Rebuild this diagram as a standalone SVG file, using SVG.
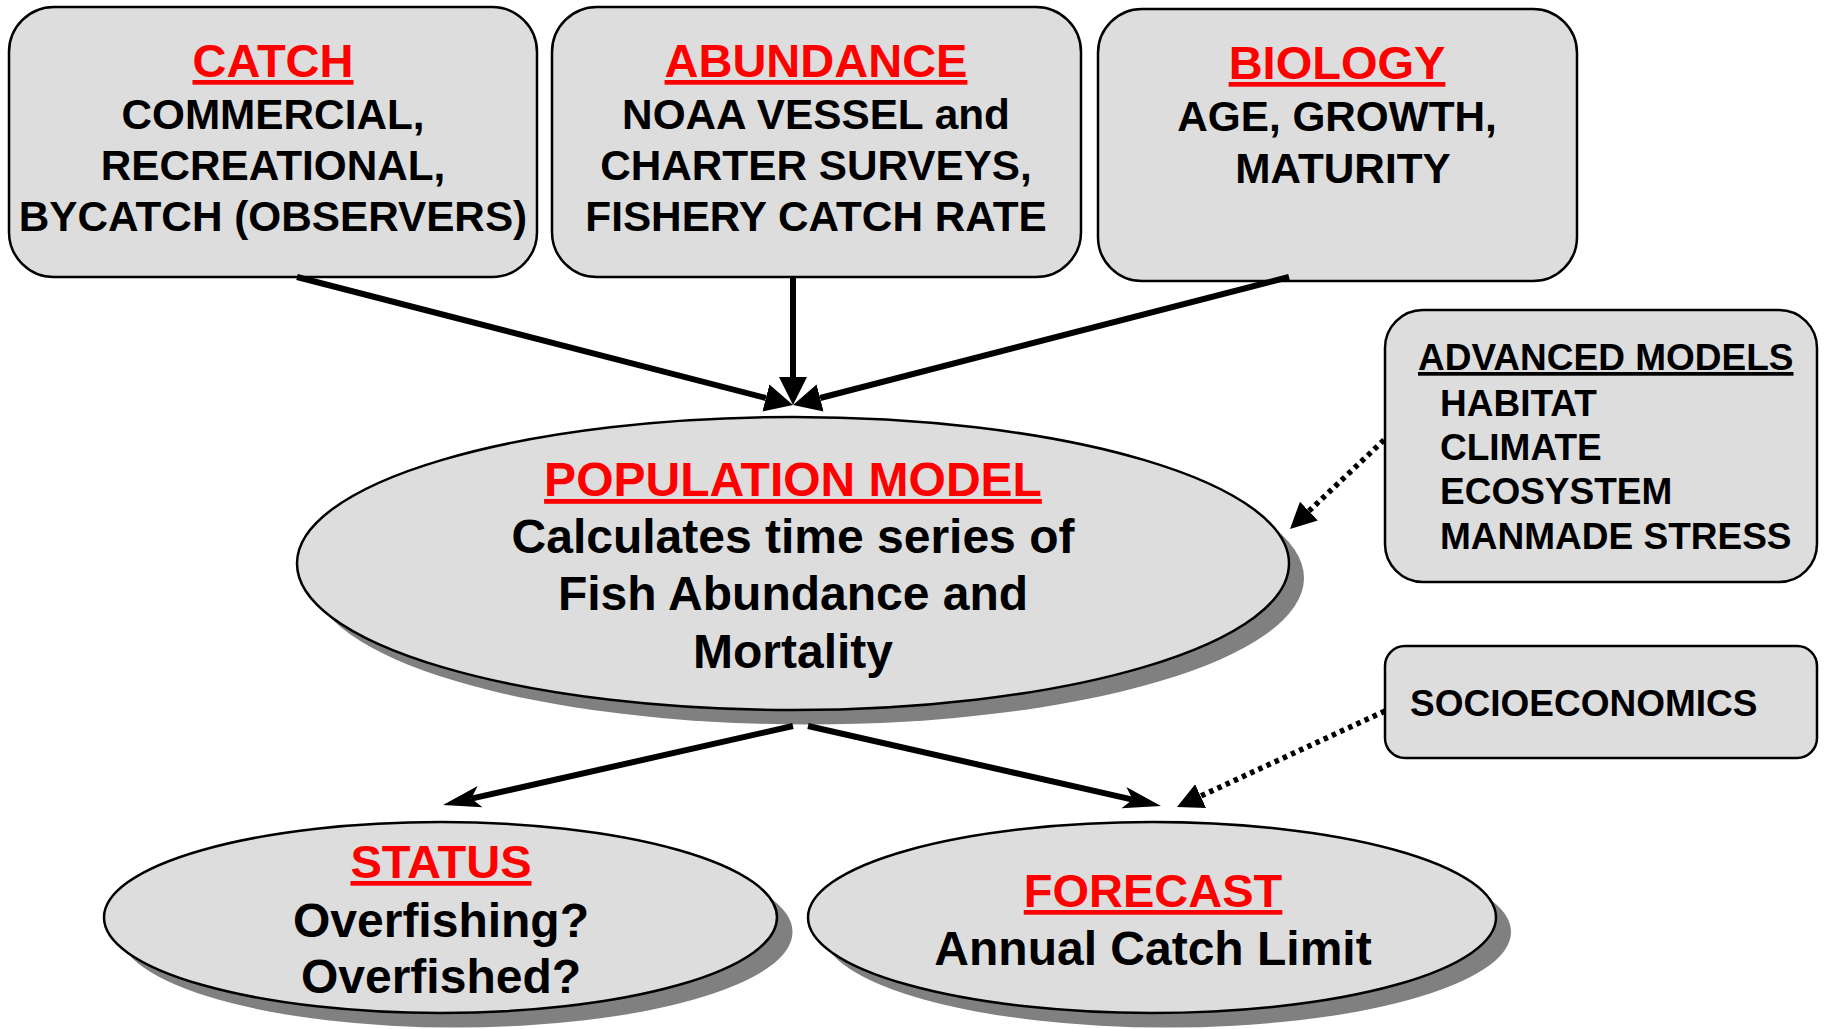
<svg xmlns="http://www.w3.org/2000/svg" width="1825" height="1029" viewBox="0 0 1825 1029">
<style>
.box{fill:#dddddd;stroke:#000;stroke-width:2.5}
.shadow{fill:#808080;stroke:none}
.t{font-family:"Liberation Sans",Arial,sans-serif;font-weight:bold;fill:#000}
.title{font-size:47px;fill:#ff0000;text-decoration:underline}
.body{font-size:42.3px}
.big{font-size:48px}
.side{font-size:37px}
.solid{stroke:#000;stroke-width:6;fill:none}
.dot{stroke:#000;stroke-width:5.5;fill:none;stroke-dasharray:4.5 4.5}
</style>
<defs>
<marker id="tri" markerUnits="userSpaceOnUse" markerWidth="30" markerHeight="32" viewBox="0 -16 30 32" refX="0" refY="0" orient="auto">
<path d="M0,-14 L28,0 L0,14 z" fill="#000"/>
</marker>
<marker id="stealth" markerUnits="userSpaceOnUse" markerWidth="40" markerHeight="26" viewBox="0 -13 40 26" refX="9" refY="0" orient="auto">
<path d="M0,-11 L38,0 L0,11 L9,0 z" fill="#000"/>
</marker>
<marker id="dtri" markerUnits="userSpaceOnUse" markerWidth="28" markerHeight="28" viewBox="0 -14 28 28" refX="0" refY="0" orient="auto">
<path d="M0,-13 L26,0 L0,13 z" fill="#000"/>
</marker>
</defs>
<rect width="1825" height="1029" fill="#fff"/>

<g id="catch">
<rect class="box" x="9" y="7" width="528" height="270" rx="45" ry="45"/>
<text class="t title" x="273" y="77" text-anchor="middle">CATCH</text>
<text class="t body" x="273" y="129" text-anchor="middle">COMMERCIAL,</text>
<text class="t body" x="273" y="180" text-anchor="middle">RECREATIONAL,</text>
<text class="t body" x="273" y="231" text-anchor="middle">BYCATCH (OBSERVERS)</text>
</g>

<g id="abundance">
<rect class="box" x="552" y="7" width="529" height="270" rx="45" ry="45"/>
<text class="t title" x="816" y="77" text-anchor="middle">ABUNDANCE</text>
<text class="t body" x="816" y="129" text-anchor="middle">NOAA VESSEL and</text>
<text class="t body" x="816" y="180" text-anchor="middle">CHARTER SURVEYS,</text>
<text class="t body" x="816" y="231" text-anchor="middle">FISHERY CATCH RATE</text>
</g>

<g id="biology">
<rect class="box" x="1098" y="9" width="479" height="272" rx="44" ry="44"/>
<text class="t title" x="1337" y="79" text-anchor="middle">BIOLOGY</text>
<text class="t body" x="1337" y="131" text-anchor="middle">AGE, GROWTH,</text>
<text class="t body" x="1343" y="183" text-anchor="middle">MATURITY</text>
</g>

<g id="advanced">
<rect class="box" x="1385" y="310" width="432" height="272" rx="38" ry="38"/>
<text class="t side" x="1418" y="370" text-decoration="underline">ADVANCED MODELS</text>
<text class="t side" x="1440" y="416">HABITAT</text>
<text class="t side" x="1440" y="460">CLIMATE</text>
<text class="t side" x="1440" y="504">ECOSYSTEM</text>
<text class="t side" x="1440" y="549">MANMADE STRESS</text>
</g>

<g id="socioeconomics">
<rect class="box" x="1385" y="646" width="432" height="112" rx="20" ry="20"/>
<text class="t side" x="1410" y="716">SOCIOECONOMICS</text>
</g>

<g id="population">
<ellipse class="shadow" cx="808" cy="578" rx="496" ry="146.5"/>
<ellipse class="box" cx="793" cy="563.5" rx="496" ry="146.5"/>
<text class="t big" x="793" y="496" text-anchor="middle" style="fill:#ff0000;text-decoration:underline">POPULATION MODEL</text>
<text class="t big" x="793" y="553" text-anchor="middle">Calculates time series of</text>
<text class="t big" x="793" y="610" text-anchor="middle">Fish Abundance and</text>
<text class="t big" x="793" y="668" text-anchor="middle">Mortality</text>
</g>

<g id="status">
<ellipse class="shadow" cx="456" cy="932" rx="336.5" ry="95.5"/>
<ellipse class="box" cx="440.5" cy="917.5" rx="336.5" ry="95.5"/>
<text class="t title" x="441" y="878" text-anchor="middle">STATUS</text>
<text class="t big" x="441" y="937" text-anchor="middle">Overfishing?</text>
<text class="t big" x="441" y="993" text-anchor="middle">Overfished?</text>
</g>

<g id="forecast">
<ellipse class="shadow" cx="1167" cy="932" rx="344" ry="95.5"/>
<ellipse class="box" cx="1152" cy="917.5" rx="344" ry="95.5"/>
<text class="t title" x="1153" y="907" text-anchor="middle">FORECAST</text>
<text class="t big" x="1153" y="965" text-anchor="middle">Annual Catch Limit</text>
</g>

<g id="connectors">
<line class="solid" x1="297" y1="277" x2="765.9" y2="398" marker-end="url(#tri)"/>
<line class="solid" x1="793" y1="277" x2="793" y2="377" marker-end="url(#tri)"/>
<line class="solid" x1="1289" y1="277" x2="820.1" y2="398" marker-end="url(#tri)"/>
<line class="solid" x1="793" y1="726" x2="471.3" y2="798.6" marker-end="url(#stealth)"/>
<line class="solid" x1="808" y1="726" x2="1132.7" y2="799.6" marker-end="url(#stealth)"/>
<line class="dot" x1="1384" y1="440" x2="1308.9" y2="511.1" marker-end="url(#dtri)"/>
<line class="dot" x1="1385" y1="711" x2="1200.6" y2="796.1" marker-end="url(#dtri)"/>
</g>
</svg>
